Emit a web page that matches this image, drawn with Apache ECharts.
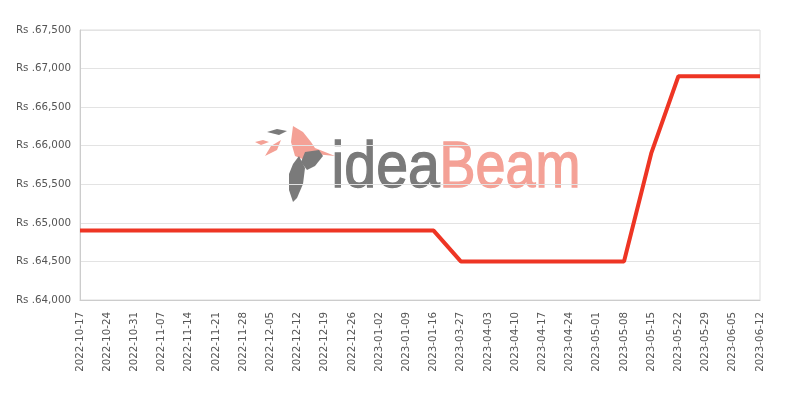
<!DOCTYPE html>
<html><head><meta charset="utf-8">
<script src="https://cdn.jsdelivr.net/npm/echarts@6/dist/echarts.min.js"></script>
<style>html,body{margin:0;padding:0;background:#fff}#c{width:800px;height:400px}</style>
</head><body><div id="c"></div>
<script>
var categories = ["2022-10-17","2022-10-24","2022-10-31","2022-11-07","2022-11-14","2022-11-21","2022-11-28","2022-12-05","2022-12-12","2022-12-19","2022-12-26","2023-01-02","2023-01-09","2023-01-16","2023-03-27","2023-04-03","2023-04-10","2023-04-17","2023-04-24","2023-05-01","2023-05-08","2023-05-15","2023-05-22","2023-05-29","2023-06-05","2023-06-12"];
var prices = [64900,64900,64900,64900,64900,64900,64900,64900,64900,64900,64900,64900,64900,64900,64500,64500,64500,64500,64500,64500,64500,65900,66900,66900,66900,66900];
var yTicks = {min:64000, max:67500, step:500};

var chart = echarts.init(document.getElementById('c'));
chart.setOption({
  animation:false,
  grid:{left:80,right:40,top:30,bottom:100,show:true,borderColor:'#dcdcdc',borderWidth:1},
  graphic:[
    {type:'group', left:255, top:126, silent:true, z:0, children:[
      {type:'polygon', shape:{points:[[38,0],[48,6],[56,16],[60,22],[80,30],[60,28],[50,34],[40,30],[36,16]]}, style:{fill:'#f4a196'}},
      {type:'polygon', shape:{points:[[12,6],[22,3],[32,5],[24,9]]}, style:{fill:'#7a7a7a'}},
      {type:'polygon', shape:{points:[[0,16],[8,14],[14,16],[6,19]]}, style:{fill:'#f4a196'}},
      {type:'polygon', shape:{points:[[10,30],[16,20],[26,14],[22,24]]}, style:{fill:'#f4a196'}},
      {type:'polygon', shape:{points:[[50,26],[64,24],[68,30],[60,40],[52,44],[46,36]]}, style:{fill:'#7a7a7a'}},
      {type:'polygon', shape:{points:[[44,30],[50,42],[48,58],[42,72],[38,76],[34,64],[34,48],[38,38]]}, style:{fill:'#7a7a7a'}}
    ]},
    {type:'text', left:331, top:136, silent:true, z:0, scaleX:0.88,
      style:{text:'idea', fill:'#7a7a7a', stroke:'#7a7a7a', lineWidth:1.4, font:'65px "Liberation Sans", sans-serif'}},
    {type:'text', left:439, top:136, silent:true, z:0, scaleX:0.83,
      style:{text:'Beam', fill:'#f4a196', stroke:'#f4a196', lineWidth:1.4, font:'65px "Liberation Sans", sans-serif'}}
  ],
  xAxis:{type:'category', data:categories, boundaryGap:false,
    axisLine:{lineStyle:{color:'#ccc'}}, axisTick:{show:false},
    axisLabel:{rotate:90, interval:0, color:'#555', fontSize:10.3, fontFamily:'DejaVu Sans', margin:12},
    splitLine:{show:false}},
  yAxis:{type:'value', min:yTicks.min, max:yTicks.max, interval:yTicks.step,
    axisLine:{show:true,lineStyle:{color:'#ccc'}}, axisTick:{show:false},
    axisLabel:{color:'#555', fontSize:10.3, fontFamily:'DejaVu Sans', margin:9,
      formatter:function(v){return 'Rs .'+v.toLocaleString('en-US');}},
    splitLine:{lineStyle:{color:'#e3e3e3'}}},
  series:[{type:'line', data:prices, symbol:'none', z:5,
    lineStyle:{color:'#ee3524', width:4}}]
});
</script></body></html>
